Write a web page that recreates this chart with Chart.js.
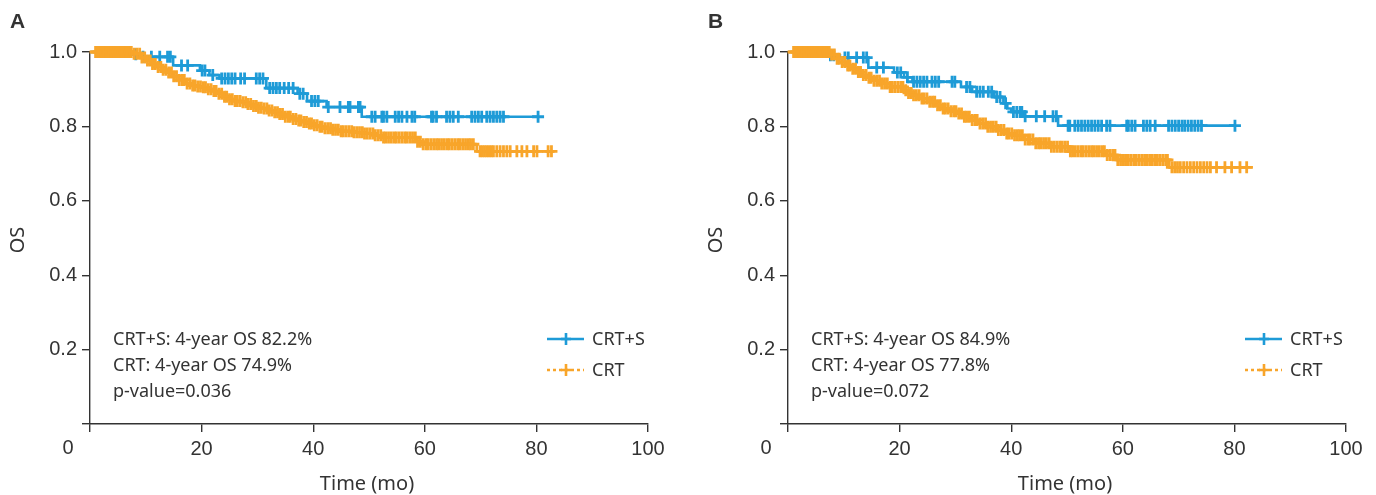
<!DOCTYPE html>
<html lang="en">
<head>
    <meta charset="UTF-8">
    <title>OS by treatment</title>
    <script src="https://cdn.jsdelivr.net/npm/chart.js"></script>
    <style>
        body { margin: 0; background: #fff; overflow: hidden; }
        canvas { position: absolute; top: 0; }
        #chartA { left: 0; }
        #chartB { left: 698px; }
    </style>
</head>
<body>
    <canvas id="chartA" width="688" height="495"></canvas>
    <canvas id="chartB" width="678" height="495"></canvas>

    <script>
        // axis ticks
        const xTicks = [0, 20, 40, 60, 80, 100];
        const yTicks = [0, 0.2, 0.4, 0.6, 0.8, 1.0];

        // Panel A - CRT+S (step times / survival after the step)
        const blueTimesA = [0, 7.8, 8.8, 14.9, 19.7, 21.4, 23.2, 31.6, 37.2, 38.9, 42.4, 48.7, 80.3];
        const blueSurvA  = [1.0, 0.994, 0.987, 0.964, 0.95, 0.938, 0.929, 0.903, 0.888, 0.868, 0.852, 0.826, 0.826];
        const blueCensorA = [8.2, 9.5, 11.0, 12.5, 13.9, 14.4, 16.4, 17.5, 20.1, 20.6, 22.0,
            23.6, 24.2, 24.8, 25.4, 26.0, 27.0, 27.7, 29.8, 30.4, 31.0, 32.2, 32.8, 33.4, 34.0,
            34.8, 35.6, 36.4, 37.6, 38.2, 39.7, 40.3, 40.9, 42.7, 44.8, 46.3, 46.6, 48.1, 48.4,
            50.5, 51.1, 52.3, 52.6, 53.2, 54.7, 55.3, 55.9, 56.8, 57.7, 58.2, 61.2, 61.5, 62.1,
            63.9, 64.5, 65.1, 66.0, 68.4, 69.0, 69.6, 70.2, 71.1, 71.7, 72.3, 72.9, 73.5, 74.1, 80.3];

        // Panel A - CRT
        const orangeTimesA = [0, 7.5, 9, 10, 11, 12, 13, 14, 15, 16, 17, 18, 19, 20, 21, 22, 23, 24,
            25, 26, 27, 28, 29, 30, 31, 32, 33, 34, 35, 36, 37, 38, 39, 40, 41, 42, 43.5, 45, 47,
            49, 51, 52.5, 58.5, 59.5, 69.3, 83.3];
        const orangeSurvA = [1.0, 0.995, 0.985, 0.977, 0.968, 0.96, 0.952, 0.945, 0.935, 0.925,
            0.915, 0.91, 0.907, 0.905, 0.9, 0.895, 0.888, 0.88, 0.873, 0.868, 0.865, 0.86, 0.855,
            0.85, 0.848, 0.843, 0.838, 0.833, 0.826, 0.82, 0.816, 0.812, 0.808, 0.803, 0.799,
            0.795, 0.791, 0.787, 0.784, 0.781, 0.776, 0.77, 0.759, 0.752, 0.733, 0.733];
        const orangeCensorA = [1.0, 1.3, 1.6, 1.9, 2.2, 2.5, 2.8, 3.1, 3.4, 3.7, 4.0, 4.3, 4.6, 4.9,
            5.2, 5.5, 5.8, 6.1, 6.4, 6.7, 7.0, 7.4, 7.9, 8.4, 8.9, 9.3, 9.8, 10.3, 10.8, 11.2, 11.7,
            12.2, 12.7, 13.1, 13.6, 14.1, 14.6, 15.0, 15.5, 16.0, 16.5, 16.9, 17.4, 17.9, 18.4,
            18.8, 19.3, 19.8, 20.3, 20.7, 21.2, 21.7, 22.2, 22.6, 23.1, 23.6, 24.1, 24.5, 25.0,
            25.5, 26.0, 26.4, 26.9, 27.4, 27.9, 28.3, 28.8, 29.3, 29.8, 30.2, 30.7, 31.2, 31.7,
            32.1, 32.6, 33.1, 33.6, 34.0, 34.5, 35.0, 35.5, 35.9, 36.4, 36.9, 37.4, 37.8, 38.3,
            38.8, 39.3, 39.7, 40.2, 40.7, 41.2, 41.6, 42.1, 42.6, 43.1, 43.5, 44.0, 44.5, 45.0,
            45.4, 45.9, 46.4, 46.9, 47.3, 47.8, 48.3, 48.8, 49.2, 49.7, 50.2, 50.7, 51.1, 51.6,
            52.1, 52.6, 53.0, 53.5, 54.0, 54.5, 54.9, 55.4, 55.9, 56.4, 56.8, 57.3, 57.8, 58.3,
            58.7, 59.2, 59.7, 60.2, 60.6, 61.1, 61.6, 62.1, 62.5, 63.0, 63.5, 64.0, 64.4, 64.9,
            65.4, 65.9, 66.3, 66.8, 67.3, 67.8, 68.2, 68.7, 69.9, 70.3, 70.7, 71.1, 71.5, 71.9,
            72.3, 72.9, 73.5, 74.1, 74.7, 75.3, 76.5, 77.4, 78.3, 79.5, 80.1, 82.1, 82.7];

        // Panel B - CRT+S
        const blueTimesB = [0, 7.2, 9.3, 14.4, 19.0, 20.8, 22.3, 31.0, 33.0, 36.9, 38.6, 39.3, 40.0, 42.3, 48.4, 80.1];
        const blueSurvB  = [1.0, 0.991, 0.985, 0.958, 0.945, 0.932, 0.92, 0.906, 0.893, 0.879, 0.862, 0.848, 0.839, 0.827, 0.802, 0.802];
        const blueCensorB = [7.6, 8.2, 10.2, 10.8, 12.3, 13.5, 14.1, 15.9, 17.1, 19.6, 20.2, 21.4,
            22.5, 23.1, 23.7, 24.3, 24.9, 25.8, 26.4, 27.0, 29.4, 29.9, 32.0, 32.6, 33.8, 34.4,
            35.0, 35.9, 36.5, 37.4, 38.0, 39.0, 40.4, 41.0, 41.6, 41.9, 42.5, 44.5, 46.0, 47.5, 48.1,
            50.2, 50.5, 51.4, 52.0, 52.6, 53.2, 53.8, 54.4, 55.0, 55.6, 56.2, 57.1, 57.7, 60.7,
            61.0, 61.6, 62.2, 63.7, 64.3, 64.9, 65.8, 68.2, 68.8, 69.4, 70.0, 70.6, 71.1, 71.7,
            72.3, 72.9, 73.5, 74.1, 80.1];

        // Panel B - CRT
        const orangeTimesB = [0, 7.5, 8.7, 9.6, 10.5, 11.4, 12.3, 13.2, 14.1, 15.3, 16.5, 18.3, 20.7,
            21.6, 22.5, 24, 25.4, 26.6, 27.8, 29, 30.2, 31.4, 32.6, 34.1, 35.6, 37.4, 39.2, 40.5,
            42.3, 44.2, 47.2, 50.5, 57, 59, 68.3, 83.3];
        const orangeSurvB = [1.0, 0.993, 0.982, 0.973, 0.964, 0.955, 0.946, 0.938, 0.931, 0.923,
            0.915, 0.906, 0.897, 0.89, 0.884, 0.875, 0.866, 0.857, 0.848, 0.841, 0.835, 0.826,
            0.817, 0.808, 0.799, 0.79, 0.781, 0.776, 0.765, 0.755, 0.745, 0.733, 0.723, 0.71, 0.69, 0.69];
        const orangeCensorB = [1.0, 1.3, 1.6, 1.9, 2.2, 2.5, 2.8, 3.1, 3.4, 3.7, 4.0, 4.3, 4.6, 4.9,
            5.2, 5.5, 5.8, 6.1, 6.4, 6.7, 7.0, 7.4, 7.8, 8.3, 8.8, 9.2, 9.7, 10.2, 10.7, 11.1, 11.6,
            12.1, 12.6, 13.0, 13.5, 14.0, 14.5, 14.9, 15.4, 15.9, 16.4, 16.8, 17.3, 17.8, 18.3,
            18.7, 19.2, 19.7, 20.2, 20.6, 21.1, 21.6, 22.1, 22.5, 23.0, 23.5, 24.0, 24.4, 24.9,
            25.4, 25.9, 26.3, 26.8, 27.3, 27.8, 28.2, 28.7, 29.2, 29.7, 30.1, 30.6, 31.1, 31.6,
            32.0, 32.5, 33.0, 33.5, 33.9, 34.4, 34.9, 35.4, 35.8, 36.3, 36.8, 37.3, 37.7, 38.2,
            38.7, 39.2, 39.6, 40.1, 40.6, 41.1, 41.5, 42.0, 42.5, 43.0, 43.4, 43.9, 44.4, 44.9,
            45.3, 45.8, 46.3, 46.8, 47.2, 47.7, 48.2, 48.7, 49.1, 49.6, 50.1, 50.6, 51.0, 51.5,
            52.0, 52.5, 52.9, 53.4, 53.9, 54.4, 54.8, 55.3, 55.8, 56.3, 56.7, 57.2, 57.7, 58.2,
            58.6, 59.1, 59.6, 60.1, 60.5, 61.0, 61.5, 62.0, 62.4, 62.9, 63.4, 63.9, 64.3, 64.8,
            65.3, 65.8, 66.2, 66.7, 67.2, 67.7, 68.0, 68.8, 69.3, 69.8, 70.3, 70.9, 71.5, 72.1,
            72.7, 73.3, 73.9, 74.5, 75.1, 75.7, 76.8, 78.3, 79.5, 81.0, 82.2];

        const legendLabels = ['CRT+S', 'CRT'];
        const notesA = ['CRT+S: 4-year OS 82.2%', 'CRT: 4-year OS 74.9%', 'p-value=0.036'];
        const notesB = ['CRT+S: 4-year OS 84.9%', 'CRT: 4-year OS 77.8%', 'p-value=0.072'];

        const BLUE = '#1e9bd7';
        const ORANGE = '#f8a52a';
        const INK = '#333333';

        function survAt(times, surv, t) {
            let s = surv[0];
            for (let i = 0; i < times.length; i++) {
                if (times[i] <= t) s = surv[i];
            }
            return s;
        }

        function stepSet(times, surv, color) {
            return {
                data: times.map((t, i) => ({ x: t, y: surv[i] })),
                borderColor: color,
                borderWidth: 2.6,
                stepped: true,
                pointRadius: 0,
                fill: false,
                clip: false
            };
        }

        function censorSet(censor, times, surv, color) {
            return {
                data: censor.map(t => ({ x: t, y: survAt(times, surv, t) })),
                showLine: false,
                pointStyle: 'cross',
                pointRadius: 6,
                pointBorderWidth: 2.8,
                borderColor: color,
                pointBorderColor: color,
                clip: false
            };
        }

        // letters, origin label, axis titles, notes and legend
        const panelText = {
            id: 'panelText',
            afterDraw(chart, args, opts) {
                const ctx = chart.ctx;
                const area = chart.chartArea;
                ctx.save();
                ctx.fillStyle = INK;

                ctx.font = 'bold 21px "Liberation Sans"';
                ctx.textAlign = 'left';
                ctx.textBaseline = 'middle';
                ctx.fillText(opts.letter, opts.letterX, 22);

                ctx.font = '20px "Liberation Sans"';
                ctx.textAlign = 'center';
                ctx.fillText('0', area.left - 22, area.bottom + 24);

                ctx.font = '20px "Noto Sans"';
                ctx.textBaseline = 'alphabetic';
                ctx.fillText('Time (mo)', (area.left + area.right) / 2 - 2, 490);
                ctx.save();
                ctx.translate(area.left - 72, (area.top + area.bottom) / 2 + 2);
                ctx.rotate(-Math.PI / 2);
                ctx.textBaseline = 'middle';
                ctx.fillText('OS', 0, 0);
                ctx.restore();

                ctx.font = '18px "Noto Sans"';
                ctx.textAlign = 'left';
                opts.notes.forEach((line, i) => {
                    ctx.fillText(line, area.left + 23, 345 + i * 26);
                });

                // legend
                const lx = area.left + 457;
                [[BLUE, []], [ORANGE, [3, 3]]].forEach(([color, dash], i) => {
                    const y = 339 + i * 31;
                    ctx.strokeStyle = color;
                    ctx.lineWidth = 2.6;
                    ctx.setLineDash(dash);
                    ctx.beginPath();
                    ctx.moveTo(lx, y);
                    ctx.lineTo(lx + 37, y);
                    ctx.stroke();
                    ctx.setLineDash([]);
                    ctx.beginPath();
                    ctx.moveTo(lx + 19, y - 6);
                    ctx.lineTo(lx + 19, y + 6);
                    ctx.moveTo(lx + 14, y);
                    ctx.lineTo(lx + 24, y);
                    ctx.stroke();
                    ctx.fillStyle = INK;
                    ctx.fillText(legendLabels[i], lx + 45, y + 6);
                });
                ctx.restore();
            }
        };

        function makeChart(id, panel) {
            const ctx = document.getElementById(id).getContext('2d');
            return new Chart(ctx, {
                type: 'line',
                data: {
                    datasets: [
                        censorSet(panel.oc, panel.ot, panel.os, ORANGE),
                        stepSet(panel.ot, panel.os, ORANGE),
                        censorSet(panel.bc, panel.bt, panel.bs, BLUE),
                        stepSet(panel.bt, panel.bs, BLUE)
                    ]
                },
                options: {
                    responsive: false,
                    animation: false,
                    layout: { padding: { top: 52, right: panel.right, left: 0, bottom: 0 } },
                    plugins: {
                        legend: { display: false },
                        tooltip: { enabled: false },
                        panelText: { letter: panel.letter, letterX: panel.letterX, notes: panel.notes }
                    },
                    scales: {
                        x: {
                            type: 'linear',
                            min: 0,
                            max: 100,
                            afterFit: s => { s.height = 71; },
                            afterBuildTicks: s => { s.ticks = xTicks.map(v => ({ value: v })); },
                            ticks: {
                                padding: 5,
                                color: INK,
                                font: { family: 'Liberation Sans', size: 20 },
                                callback: v => (v === 0 ? '' : v)
                            },
                            grid: { drawOnChartArea: false, tickLength: 8, color: INK, lineWidth: 1.4 },
                            border: { color: INK, width: 1.4 }
                        },
                        y: {
                            min: 0,
                            max: 1,
                            afterFit: s => { s.width = 90; },
                            afterBuildTicks: s => { s.ticks = yTicks.map(v => ({ value: v })); },
                            ticks: {
                                padding: 5,
                                color: INK,
                                font: { family: 'Liberation Sans', size: 20 },
                                callback: v => (v === 0 ? '' : v.toFixed(1))
                            },
                            grid: { drawOnChartArea: false, tickLength: 8, color: INK, lineWidth: 1.4 },
                            border: { color: INK, width: 1.4 }
                        }
                    }
                },
                plugins: [panelText]
            });
        }

        makeChart('chartA', {
            letter: 'A', letterX: 10, notes: notesA, right: 40,
            bt: blueTimesA, bs: blueSurvA, bc: blueCensorA,
            ot: orangeTimesA, os: orangeSurvA, oc: orangeCensorA
        });
        makeChart('chartB', {
            letter: 'B', letterX: 10, notes: notesB, right: 30,
            bt: blueTimesB, bs: blueSurvB, bc: blueCensorB,
            ot: orangeTimesB, os: orangeSurvB, oc: orangeCensorB
        });
    </script>
</body>
</html>
